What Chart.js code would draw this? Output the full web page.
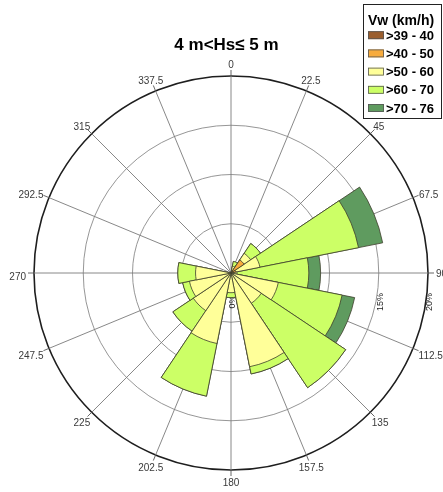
<!DOCTYPE html>
<html>
<head>
<meta charset="utf-8">
<script src="https://cdn.jsdelivr.net/npm/chart.js@4"></script>
<style>
  html, body { margin: 0; padding: 0; background: #ffffff; }
  #wrap { width: 443px; height: 492px; position: relative; }
</style>
</head>
<body>
<div id="wrap"><canvas id="rose" width="443" height="492"></canvas></div>
<script>
// Wind directions (degrees, clockwise from north)
const directions = ['0', '22.5', '45', '67.5', '90', '112.5', '135', '157.5',
                    '180', '202.5', '225', '247.5', '270', '292.5', '315', '337.5'];
// Wind speed classes and their fills
const speedClasses = ['>39 - 40', '>40 - 50', '>50 - 60', '>60 - 70', '>70 - 76'];
const classColors = ['#9b5e2e', '#f7ab3d', '#ffff99', '#ccff66', '#5f9b5f'];
// Frequency of occurrence (%) per direction, one array per speed class
const pct39_40 = [0, 0,   0.2, 0,    0,   0,   0,    0,    0,   0,    0,   0,   0,   0, 0, 0];
const pct40_50 = [0, 0,   1.4, 0.5,  0,   0,   0,    0,    0,   0,    0,   0,   0,   0, 0, 0];
const pct50_60 = [0, 0.7, 0.8, 2.5,  0.6, 4.9, 3.7,  9.7,  2.0, 7.3,  4.6, 4.3, 3.6, 0, 0, 0];
const pct60_70 = [0, 0.5, 1.2, 10.2, 7.3, 6.6, 10.3, 0.75, 0.5, 5.45, 2.5, 0.7, 1.8, 0, 0, 0];
const pct70_76 = [0, 0,   0,   2.5,  1.2, 1.3, 0,    0,    0,   0,    0,   0,   0,   0, 0, 0];
// Radial axis (percent)
const radialTicks = [0, 5, 10, 15, 20];
const chartTitle = '4 m<Hs\u2264 5 m';
const legendTitle = 'Vw (km/h)';

const FONT = '"Liberation Sans", Arial, sans-serif';
const classValues = [pct39_40, pct40_50, pct50_60, pct60_70, pct70_76];

// Each direction gets a 22.5° slot followed by a zero-width slot; the zero-width
// slots carry the direction labels so the angle lines fall on the bar centres.
const slotLabels = [];
directions.forEach(d => { slotLabels.push(''); slotLabels.push(d); });

// Classes are overlaid as running totals; dataset 0 is painted last (on top).
const running = directions.map(() => 0);
const datasets = classValues.map((vals, c) => {
  const tops = vals.map((v, k) => (running[k] += v));
  const data = [];
  tops.forEach(t => { data.push(Math.round(t * 1000) / 1000); data.push(0); });
  return {
    label: speedClasses[c],
    data,
    backgroundColor: classColors[c],
    borderColor: '#3d3d2c',
    borderWidth: ctx => (ctx.dataIndex % 2 ? 0 : 0.8),
    angle: ctx => (ctx.dataIndex % 2 ? 1e-6 : 22.5)
  };
});

const roseDecor = {
  id: 'roseDecor',
  beforeDatasetsDraw(chart) {
    // radial tick labels sit under the bars
    const s = chart.scales.r;
    const ctx = chart.ctx;
    ctx.save();
    ctx.font = '9px ' + FONT;
    ctx.fillStyle = '#222';
    ctx.textAlign = 'center';
    ctx.textBaseline = 'middle';
    radialTicks.forEach(v => {
      const d = s.getDistanceFromCenterForValue(v);
      ctx.save();
      ctx.translate(s.xCenter + d + 1.5, s.yCenter + 29);
      ctx.rotate(-Math.PI / 2);
      ctx.fillText(v + '%', 0, 0);
      ctx.restore();
    });
    ctx.restore();
  },
  afterDraw(chart) {
    const s = chart.scales.r;
    const ctx = chart.ctx;
    const R = s.getDistanceFromCenterForValue(radialTicks[radialTicks.length - 1]);
    ctx.save();

    // short ticks past the outer ring
    ctx.strokeStyle = '#555';
    ctx.lineWidth = 0.9;
    directions.forEach((d, k) => {
      const a = s.getPointPosition(2 * k + 1, R);
      const b = s.getPointPosition(2 * k + 1, R + 6);
      ctx.beginPath();
      ctx.moveTo(a.x, a.y);
      ctx.lineTo(b.x, b.y);
      ctx.stroke();
    });

    // direction labels
    ctx.font = '10px ' + FONT;
    ctx.fillStyle = '#3a3a3a';
    ctx.textAlign = 'center';
    ctx.textBaseline = 'middle';
    directions.forEach((d, k) => {
      const ang = parseFloat(d) * Math.PI / 180;
      const sn = Math.sin(ang), cs = Math.cos(ang);
      const w = ctx.measureText(d).width;
      const px = s.getPointPosition(2 * k + 1, R + 8 + Math.abs(sn) * w / 2).x;
      const py = s.getPointPosition(2 * k + 1, R + 11).y + (cs < 0 ? 2.5 : 0) + 1.5 * Math.abs(sn);
      ctx.fillText(d, px, py);
    });

    // title
    ctx.font = 'bold 17px ' + FONT;
    ctx.fillStyle = '#000';
    ctx.textAlign = 'center';
    ctx.textBaseline = 'alphabetic';
    ctx.fillText(chartTitle, 226.5, 50);

    // legend box
    ctx.fillStyle = '#fff';
    ctx.fillRect(363.5, 4.5, 78, 114);
    ctx.strokeStyle = '#222';
    ctx.lineWidth = 1;
    ctx.strokeRect(363.5, 4.5, 78, 114);
    ctx.fillStyle = '#000';
    ctx.textAlign = 'left';
    ctx.font = 'bold 14px ' + FONT;
    ctx.fillText(legendTitle, 368, 25);
    ctx.font = 'bold 13px ' + FONT;
    chart.data.datasets.forEach((ds, i) => {
      const y = 35.2 + i * 18.2;
      ctx.fillStyle = ds.backgroundColor;
      ctx.fillRect(368, y - 4, 16, 8);
      ctx.strokeStyle = '#555';
      ctx.lineWidth = 0.8;
      ctx.strokeRect(368.5, y - 3.5, 15, 7);
      ctx.fillStyle = '#000';
      ctx.fillText(ds.label, 386, y + 4.5);
    });
    ctx.restore();
  }
};

new Chart(document.getElementById('rose'), {
  type: 'polarArea',
  data: { labels: slotLabels, datasets },
  options: {
    responsive: false,
    animation: false,
    events: [],
    layout: { padding: { left: 34, right: 15, top: 76, bottom: 22 } },
    plugins: {
      legend: { display: false },
      tooltip: { enabled: false },
      title: { display: false }
    },
    scales: {
      r: {
        startAngle: -11.25,
        min: 0,
        max: 20,
        ticks: { display: false, stepSize: 5 },
        grid: {
          circular: true,
          color: c => (c.tick && c.tick.value === 20 ? '#1e1e1e' : '#8a8a8a'),
          lineWidth: c => (c.tick && c.tick.value === 20 ? 1.6 : 0.9)
        },
        angleLines: {
          display: true,
          color: '#7a7a7a',
          lineWidth: c => (c.label ? 0.9 : 0)
        },
        pointLabels: { display: false }
      }
    }
  },
  plugins: [roseDecor]
});
</script>
</body>
</html>
